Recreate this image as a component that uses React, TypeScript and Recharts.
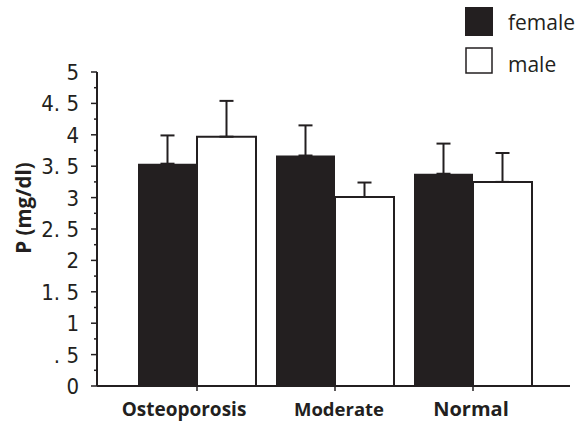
import React from 'react';
import { BarChart, Bar, XAxis, YAxis, ErrorBar, Legend, Label } from 'recharts';

const categories = ['Osteoporosis', 'Moderate', 'Normal'];
const femaleValues = [3.54, 3.67, 3.38];
const maleValues = [3.97, 3.01, 3.25];
const femaleErrors = [0.45, 0.48, 0.48];
const maleErrors = [0.57, 0.23, 0.46];
const yTickValues = [0, 0.25, 0.5, 0.75, 1, 1.25, 1.5, 1.75, 2, 2.25, 2.5, 2.75, 3, 3.25, 3.5, 3.75, 4, 4.25, 4.5, 4.75, 5];
const yTickLabels: Record<string, string> = {
  '0': '0', '0.5': '. 5', '1': '1', '1.5': '1. 5', '2': '2', '2.5': '2. 5',
  '3': '3', '3.5': '3. 5', '4': '4', '4.5': '4. 5', '5': '5',
};
const yAxisTitle = 'P (mg/dl)';
const seriesNames = ['female', 'male'];

const data = categories.map((c, i) => ({
  name: c,
  female: femaleValues[i],
  male: maleValues[i],
  femaleErr: [0, femaleErrors[i]],
  maleErr: [0, maleErrors[i]],
}));

const INK = '#231f20';
const xLabelStyle: Record<string, { size: number; dx: number }> = {
  Osteoporosis: { size: 19, dx: -13 },
  Moderate: { size: 18.5, dx: 4 },
  Normal: { size: 20, dx: -2 },
};

const YTick = (props: any) => {
  const { x, y, payload } = props;
  const v = payload.value;
  const label = yTickLabels[String(v)];
  if (label === undefined) {
    return <line x1={x - 3} x2={x} y1={y} y2={y} stroke={INK} strokeWidth={1.5} />;
  }
  return (
    <g>
      <line x1={x - 6} x2={x} y1={y} y2={y} stroke={INK} strokeWidth={1.5} />
      <text x={x - 18} y={y} dy="0.36em" textAnchor="end" fill={INK}
        style={{ fontFamily: '"Liberation Sans Narrow", "DejaVu Sans Condensed", sans-serif', fontSize: 22 }}>
        {label}
      </text>
    </g>
  );
};

const XTick = (props: any) => {
  const { x, y, payload } = props;
  const st = xLabelStyle[payload.value] || { size: 17, dx: 0 };
  return (
    <text x={x + st.dx} y={y + 23} textAnchor="middle" fill={INK}
      style={{ fontFamily: '"Open Sans", sans-serif', fontWeight: 700, fontSize: st.size }}>
      {payload.value}
    </text>
  );
};

const LegendContent = () => (
  <svg width={118} height={70}>
    <rect x={0} y={0} width={28} height={29} fill={INK} />
    <text x={43} y={23} fill={INK} style={{ fontFamily: '"Open Sans", sans-serif', fontSize: 21 }}>{seriesNames[0]}</text>
    <rect x={1} y={41} width={26} height={25} fill="#fff" stroke={INK} strokeWidth={1.5} />
    <text x={43} y={65} fill={INK} style={{ fontFamily: '"Open Sans", sans-serif', fontSize: 21 }}>{seriesNames[1]}</text>
  </svg>
);

const YTitle = (props: any) => (
  <text x={23} y={208} transform="rotate(-90 23 208)" textAnchor="middle" dominantBaseline="central" fill={INK}
    style={{ fontFamily: '"Open Sans", sans-serif', fontWeight: 700, fontSize: 20.5 }}>
    {yAxisTitle}
  </text>
);

export default function App() {
  return (
    <div style={{ position: 'absolute', left: 0, top: 0, background: '#fff' }}>
      <BarChart width={583} height={430} data={data} barGap={0}
        margin={{ top: 72, right: 13, bottom: 0, left: 0 }}>
        <XAxis dataKey="name" height={44} padding={{ left: 31, right: 28 }}
          axisLine={{ stroke: INK, strokeWidth: 2 }} tickLine={{ stroke: INK, strokeWidth: 1.5 }}
          tickSize={5} tick={<XTick />} interval={0} />
        <YAxis width={97} domain={[0, 5]} ticks={yTickValues} interval={0} allowDataOverflow
          axisLine={{ stroke: INK, strokeWidth: 2 }} tickLine={false} tickSize={0} tickMargin={0}
          tick={<YTick />}>
          <Label content={<YTitle />} />
        </YAxis>
        <Legend layout="horizontal" verticalAlign="middle" align="center" content={<LegendContent />}
          wrapperStyle={{ left: 465, top: 7, width: 118, height: 70 }} />
        <Bar dataKey="female" name="female" fill={INK} barSize={59} isAnimationActive={false}>
          <ErrorBar dataKey="femaleErr" width={7} stroke={INK} strokeWidth={2} direction="y" />
        </Bar>
        <Bar dataKey="male" name="male" fill="#fff" stroke={INK} strokeWidth={2} barSize={59} isAnimationActive={false}>
          <ErrorBar dataKey="maleErr" width={7} stroke={INK} strokeWidth={2} direction="y" />
        </Bar>
      </BarChart>
    </div>
  );
}
